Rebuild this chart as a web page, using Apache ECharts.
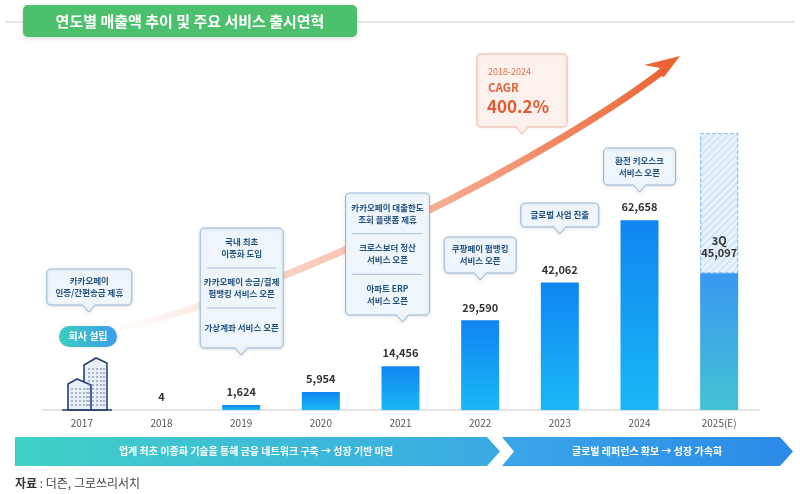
<!DOCTYPE html>
<html><head><meta charset="utf-8">
<script src="https://cdn.jsdelivr.net/npm/echarts@6/dist/echarts.min.js"></script>
<style>html,body{margin:0;padding:0;background:#fff}#c{width:800px;height:494px}</style>
</head><body><div id="c"></div>
<script>
// ---- data ----
const years = ['2017','2018','2019','2020','2021','2022','2023','2024','2025(E)'];
const revenue = [null, 4, 1624, 5954, 14456, 29590, 42062, 62658, 45097];
const labelPrefix = ['', '', '', '', '', '', '', '', '3Q'];
const estimate2025Total = 91400;
const estimateRemainder = years.map((y, i) => i === years.length - 1 ? estimate2025Total - revenue[i] : null);
const titleText = '연도별 매출액 추이 및 주요 서비스 출시연혁';
const cagrPeriod = '2018-2024';
const cagrLabel = 'CAGR';
const cagrValue = '400.2%';
const foundingLabel = '회사 설립';
const phaseLeft = '업계 최초 이종화 기술을 통해 금융 네트워크 구축 → 성장 기반 마련';
const phaseRight = '글로벌 레퍼런스 확보 → 성장 가속화';
const sourceLabel = '자료';
const sourceText = ' : 더즌, 그로쓰리서치';
const milestoneYears = ['2017', '2019', '2021', '2022', '2023', '2024'];
const milestoneTexts = [
  [['카카오페이', '인증/간편송금 제휴']],
  [['국내 최초', '이종화 도입'], ['카카오페이 송금/결제', '펌뱅킹 서비스 오픈'], ['가상계좌 서비스 오픈']],
  [['카카오페이 대출한도', '조회 플랫폼 제휴'], ['크로스보더 정산', '서비스 오픈'], ['아파트 ERP', '서비스 오픈']],
  [['쿠팡페이 펌뱅킹', '서비스 오픈']],
  [['글로벌 사업 진출']],
  [['환전 키오스크', '서비스 오픈']]
];

const FONT = '"Noto Sans CJK KR", "Noto Sans", sans-serif';
const fmt = v => v.toLocaleString('en-US');

const chart = echarts.init(document.getElementById('c'));

const gradMain = new echarts.graphic.LinearGradient(0, 0, 0, 1, [
  { offset: 0, color: '#1085f1' }, { offset: 1, color: '#19b8f5' }]);
const gradLast = new echarts.graphic.LinearGradient(0, 0, 0, 1, [
  { offset: 0, color: '#3897f1' }, { offset: 1, color: '#44c3d3' }]);

chart.setOption({
  animation: false,
  grid: { left: 42, right: 41, top: 107, bottom: 84 },
  xAxis: {
    type: 'category', data: years,
    axisLine: { lineStyle: { color: '#dcdcdc', width: 1.5 } },
    axisTick: { show: false },
    axisLabel: { color: '#555', fontSize: 10, margin: 8, fontFamily: FONT }
  },
  yAxis: { type: 'value', min: 0, max: 100000, show: false, splitLine: { show: false } },
  series: [
    {
      type: 'bar', stack: 'rev', barWidth: 38, z: 3,
      data: revenue.map((v, i) => ({
        value: v,
        itemStyle: { color: i === years.length - 1 ? gradLast : gradMain },
        label: { distance: labelPrefix[i] ? 15 : 7 }
      })),
      label: {
        show: true, position: 'top', fontSize: 11, fontWeight: 'bold', color: '#333',
        lineHeight: 12, fontFamily: FONT,
        formatter: p => p.value == null ? '' : (labelPrefix[p.dataIndex] ? labelPrefix[p.dataIndex] + '\n' : '') + fmt(p.value)
      }
    },
    {
      type: 'bar', stack: 'rev', barWidth: 38, z: 2,
      data: estimateRemainder,
      itemStyle: {
        color: '#e8f2fc', borderColor: '#92c3ec', borderType: 'dashed', borderWidth: 1,
        decal: { symbol: 'rect', symbolSize: 1, color: 'rgba(160,200,238,0.5)', dashArrayX: [1, 0], dashArrayY: [1, 4], rotation: -Math.PI / 4 }
      }
    }
  ]
});

// ---- decorations ----
function arcPts(cxp, cyp, r, a0, a1) {
  const pts = [];
  for (let k = 0; k <= 4; k++) {
    const a = a0 + (a1 - a0) * k / 4;
    pts.push([cxp + r * Math.cos(a), cyp + r * Math.sin(a)]);
  }
  return pts;
}
function calloutPts(x, y, w, h, r, px, tip, hw) {
  const P = Math.PI;
  return [].concat(
    arcPts(x + r, y + r, r, P, 1.5 * P),
    arcPts(x + w - r, y + r, r, 1.5 * P, 2 * P),
    arcPts(x + w - r, y + h - r, r, 0, 0.5 * P),
    [[px + hw, y + h], [px, y + h + tip], [px - hw, y + h]],
    arcPts(x + r, y + h - r, r, 0.5 * P, P)
  );
}
const cx = c => chart.convertToPixel({ xAxisIndex: 0 }, c);

const layout = [
  { dx: -35, w: 85, top: 269, h: 36, pdx: 7 },
  { dx: -41, w: 83, top: 228, h: 120, pdx: 0 },
  { dx: -55, w: 84, top: 193, h: 122, pdx: 2 },
  { dx: -36, w: 72, top: 237, h: 36, pdx: 0 },
  { dx: -39, w: 78, top: 203, h: 24, pdx: 0 },
  { dx: -36, w: 72, top: 148, h: 37, pdx: 0 }
];

const g = [];
// title line + box
g.push({ type: 'line', z: 1, shape: { x1: 5, y1: 22, x2: 795, y2: 22 }, style: { stroke: '#cfcfcf', lineWidth: 1.2 } });
g.push({ type: 'rect', z: 5, shape: { x: 23, y: 5, width: 334, height: 32, r: 5 },
  style: { fill: '#4cc06c', shadowBlur: 4, shadowColor: 'rgba(0,0,0,0.18)', shadowOffsetY: 1 } });
g.push({ type: 'text', z: 6, style: { text: titleText, x: 190, y: 21, align: 'center', verticalAlign: 'middle',
  fill: '#fff', fontSize: 15, fontWeight: 'bold', fontFamily: FONT } });

// growth arrow
g.push({ type: 'bezierCurve', z: 1,
  shape: { x1: 112, y1: 330, cpx1: 300, cpy1: 290, cpx2: 560, cpy2: 150, x2: 664, y2: 70 },
  style: { fill: null, lineWidth: 7, lineCap: 'butt',
    stroke: { type: 'linear', x: 0, y: 0, x2: 1, y2: 0, colorStops: [
      { offset: 0, color: 'rgba(252,228,220,0)' }, { offset: 0.25, color: 'rgba(249,208,194,0.8)' },
      { offset: 0.6, color: '#f5ac90' }, { offset: 1, color: '#ec6436' }] } } });
g.push({ type: 'polygon', z: 1, shape: { points: [[680, 56], [644, 65], [660, 68], [655, 74], [664, 77]] },
  style: { fill: '#ec6436' } });

// CAGR box
g.push({ type: 'polygon', z: 8, shape: { points: calloutPts(477, 54, 90, 73, 4, 522, 7, 6) },
  style: { fill: '#fdf1ed', stroke: '#f1b9a6', lineWidth: 1, shadowBlur: 3, shadowColor: 'rgba(0,0,0,0.08)' } });
g.push({ type: 'text', z: 9, style: { text: cagrPeriod, x: 488, y: 72, verticalAlign: 'middle', fill: '#e0704f', fontSize: 9, fontFamily: FONT } });
g.push({ type: 'text', z: 9, style: { text: cagrLabel, x: 488, y: 88, verticalAlign: 'middle', fill: '#e0643e', fontSize: 11.5, fontWeight: 'bold', fontFamily: FONT } });
g.push({ type: 'text', z: 9, style: { text: cagrValue, x: 487, y: 107, verticalAlign: 'middle', fill: '#e05a33', fontSize: 17, fontWeight: 'bold', fontFamily: FONT } });

// milestone callouts
milestoneYears.forEach((yr, i) => {
  const L = layout[i];
  const c = cx(yr);
  const x = c + L.dx, px = c + L.pdx;
  g.push({ type: 'polygon', z: 8, shape: { points: calloutPts(x, L.top, L.w, L.h, 4, px, 7, 6) },
    style: { fill: '#eef5fb', stroke: '#93b6d5', lineWidth: 1, shadowBlur: 3, shadowColor: 'rgba(0,0,0,0.1)', shadowOffsetY: 1 } });
  const groups = milestoneTexts[i];
  const sh = L.h / groups.length;
  groups.forEach((lines, k) => {
    const yc = L.top + sh * k + sh / 2;
    g.push({ type: 'text', z: 9, style: { text: lines.join('\n'), x: x + L.w / 2, y: yc, align: 'center', verticalAlign: 'middle',
      lineHeight: 12, fill: '#24527f', fontSize: 8.5, fontWeight: 'bold', fontFamily: FONT } });
    if (k > 0) {
      const ys = L.top + sh * k;
      g.push({ type: 'line', z: 9, shape: { x1: x + 7, y1: ys, x2: x + L.w - 7, y2: ys }, style: { stroke: '#a9c0d6', lineWidth: 1 } });
    }
  });
});

// founding pill
g.push({ type: 'rect', z: 8, shape: { x: 59, y: 326, width: 58, height: 21, r: 10.5 },
  style: { fill: new echarts.graphic.LinearGradient(0, 0, 1, 0, [{ offset: 0, color: '#3ccdc2' }, { offset: 1, color: '#3a9de9' }]),
    shadowBlur: 3, shadowColor: 'rgba(0,0,0,0.12)' } });
g.push({ type: 'text', z: 9, style: { text: foundingLabel, x: 88, y: 336.5, align: 'center', verticalAlign: 'middle', fill: '#fff', fontSize: 10, fontWeight: 'bold', fontFamily: FONT } });

// building icon
const navy = '#2b3f73';
g.push({ type: 'polygon', z: 6, shape: { points: [[84, 365], [96, 358], [107, 363], [107, 410], [84, 410]] }, style: { fill: '#eaf0fa', stroke: navy, lineWidth: 1.6 } });
g.push({ type: 'polygon', z: 7, shape: { points: [[68, 384], [77, 379], [91, 385], [91, 410], [68, 410]] }, style: { fill: '#eaf0fa', stroke: navy, lineWidth: 1.6 } });
[89, 93, 97, 101, 104].forEach(xw => g.push({ type: 'line', z: 7, shape: { x1: xw, y1: 368, x2: xw, y2: 406 }, style: { stroke: '#7d8db0', lineWidth: 1.2, lineDash: [2, 2] } }));
[72, 76, 80, 84, 87].forEach(xw => g.push({ type: 'line', z: 8, shape: { x1: xw, y1: 388, x2: xw, y2: 406 }, style: { stroke: '#7d8db0', lineWidth: 1.2, lineDash: [2, 2] } }));
g.push({ type: 'line', z: 8, shape: { x1: 62, y1: 410, x2: 112, y2: 410 }, style: { stroke: navy, lineWidth: 1.6 } });

// phase banners
g.push({ type: 'polygon', z: 5, shape: { points: [[15, 437], [487, 437], [500, 451.5], [487, 466], [15, 466]] },
  style: { fill: new echarts.graphic.LinearGradient(0, 0, 1, 0, [{ offset: 0, color: '#40d1c6' }, { offset: 1, color: '#3aa9e4' }]) } });
g.push({ type: 'polygon', z: 5, shape: { points: [[502, 437], [780, 437], [793, 451.5], [780, 466], [502, 466], [514, 451.5]] },
  style: { fill: new echarts.graphic.LinearGradient(0, 0, 1, 0, [{ offset: 0, color: '#3aa6e8' }, { offset: 1, color: '#2b8ae7' }]) } });
g.push({ type: 'text', z: 6, style: { text: phaseLeft, x: 256, y: 451.5, align: 'center', verticalAlign: 'middle', fill: '#fff', fontSize: 10, fontWeight: 'bold', fontFamily: FONT } });
g.push({ type: 'text', z: 6, style: { text: phaseRight, x: 647, y: 451.5, align: 'center', verticalAlign: 'middle', fill: '#fff', fontSize: 10, fontWeight: 'bold', fontFamily: FONT } });

// source
g.push({ type: 'text', z: 6, style: { text: '{b|' + sourceLabel + '}{n|' + sourceText + '}', x: 15, y: 483, verticalAlign: 'middle',
  rich: { b: { fontSize: 12, fontWeight: 'bold', fill: '#333', fontFamily: FONT }, n: { fontSize: 12, fill: '#444', fontFamily: FONT } } } });

chart.setOption({ graphic: { elements: g } });
</script>
</body></html>
